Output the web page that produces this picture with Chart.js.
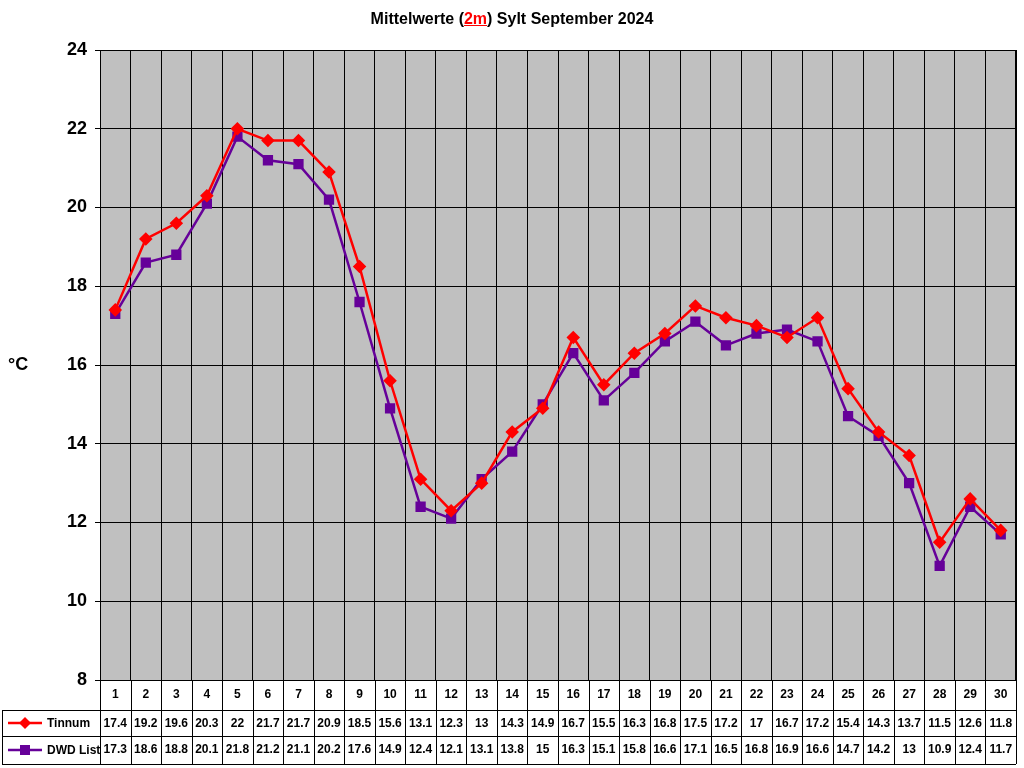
<!DOCTYPE html>
<html><head><meta charset="utf-8">
<script src="https://cdn.jsdelivr.net/npm/chart.js@4/dist/chart.umd.min.js"></script>
<style>
body{margin:0;background:#fff;font-family:Arial,"Liberation Sans",sans-serif}
#wrap{position:relative;width:1024px;height:768px}
#title{position:absolute;top:10px;left:0;width:1024px;text-align:center;font-weight:bold;font-size:16px}
#title span{color:#f00;text-decoration:underline}
#unit{position:absolute;left:8px;top:354px;font-weight:bold;font-size:18px}
</style></head><body>
<div id="wrap">
<canvas id="c" width="1024" height="768"></canvas>
<div id="title">Mittelwerte (<span>2m</span>) Sylt September 2024</div>
<div id="unit">°C</div>
</div>
<script>
const days = Array.from({length:30},(_,i)=>String(i+1))
const tinnum = [17.4,19.2,19.6,20.3,22,21.7,21.7,20.9,18.5,15.6,13.1,12.3,13,14.3,14.9,16.7,15.5,16.3,16.8,17.5,17.2,17,16.7,17.2,15.4,14.3,13.7,11.5,12.6,11.8]
const dwd = [17.3,18.6,18.8,20.1,21.8,21.2,21.1,20.2,17.6,14.9,12.4,12.1,13.1,13.8,15,16.3,15.1,15.8,16.6,17.1,16.5,16.8,16.9,16.6,14.7,14.2,13,10.9,12.4,11.7]
const seriesNames = ['Tinnum','DWD List']
const colors = ['#ff0000','#660099']

const bgPlugin = {
  id:'bg',
  beforeDraw(chart){
    const {ctx, chartArea:a} = chart
    ctx.save(); ctx.fillStyle='#c0c0c0'
    ctx.fillRect(a.left,a.top,a.right-a.left,a.bottom-a.top); ctx.restore()
  },
  afterDraw(chart){
    const {ctx, chartArea:a, scales:{x}} = chart
    const w = x.getPixelForValue(1)-x.getPixelForValue(0)
    const rows = [a.bottom, a.bottom+30, a.bottom+56, a.bottom+84]
    ctx.save()
    ctx.strokeStyle='#000'; ctx.lineWidth=1
    ctx.strokeRect(a.left+0.5,a.top+0.5,a.right-a.left,a.bottom-a.top)
    // horizontal lines
    ctx.beginPath()
    ctx.moveTo(a.left,rows[0]+0.5); ctx.lineTo(a.right,rows[0]+0.5)
    for (let r=1;r<4;r++){ctx.moveTo(2,rows[r]+0.5); ctx.lineTo(a.right,rows[r]+0.5)}
    ctx.moveTo(2.5,rows[1]); ctx.lineTo(2.5,rows[3])
    for (let i=0;i<=30;i++){
      const px = Math.round(x.getPixelForValue(0)-w/2+i*w)+0.5
      ctx.moveTo(px,rows[0]); ctx.lineTo(px,rows[3])
    }
    ctx.stroke()
    ctx.fillStyle='#000'; ctx.textAlign='center'; ctx.textBaseline='middle'
    ctx.font='bold 12px Arial'
    const data=[tinnum,dwd]
    days.forEach((d,i)=>{
      const px=x.getPixelForValue(i)
      ctx.fillText(d,px,(rows[0]+rows[1])/2)
      ctx.fillText(String(tinnum[i]),px,(rows[1]+rows[2])/2+1)
      ctx.fillText(String(dwd[i]),px,(rows[2]+rows[3])/2)
    })
    // legend cells
    for (let s=0;s<2;s++){
      const cy=(rows[s+1]+rows[s+2])/2
      ctx.strokeStyle=colors[s]; ctx.fillStyle=colors[s]; ctx.lineWidth=2.5
      ctx.beginPath(); ctx.moveTo(8,cy); ctx.lineTo(42,cy); ctx.stroke()
      ctx.beginPath()
      if(s===0){ctx.moveTo(25,cy-6);ctx.lineTo(31,cy);ctx.lineTo(25,cy+6);ctx.lineTo(19,cy)}
      else ctx.rect(20,cy-5,10,10)
      ctx.fill()
      ctx.fillStyle='#000'; ctx.textAlign='left'
      ctx.fillText(seriesNames[s],47,cy+1)
    }
    ctx.restore()
  }
}

new Chart(document.getElementById('c'),{
  type:'line',
  data:{labels:days,datasets:[
    {label:seriesNames[0],data:tinnum,borderColor:colors[0],backgroundColor:colors[0],borderWidth:2.5,pointStyle:'rectRot',pointRadius:5,tension:0},
    {label:seriesNames[1],data:dwd,borderColor:colors[1],backgroundColor:colors[1],borderWidth:2.5,pointStyle:'rect',pointRadius:5.5,tension:0}
  ]},
  options:{
    responsive:false,animation:false,
    layout:{padding:{top:50,right:4,bottom:88,left:0}},
    plugins:{legend:{display:false},title:{display:false},tooltip:{enabled:false}},
    scales:{
      x:{offset:true,grid:{offset:true,color:'#000',drawTicks:false},border:{display:false},ticks:{display:false}},
      y:{min:8,max:24,ticks:{stepSize:2,color:'#000',font:{weight:'bold',size:18,family:'Arial'},padding:8},
        grid:{color:'#000',drawTicks:true,tickLength:5},border:{color:'#000'},
        afterFit(s){s.width=100}}
    }
  },
  plugins:[bgPlugin]
})
</script>
</body></html>
